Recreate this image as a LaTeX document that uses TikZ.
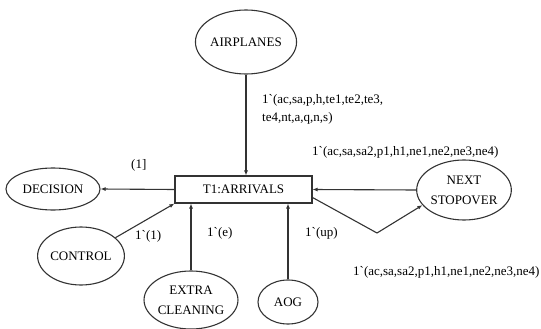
\documentclass[tikz,border=0pt]{standalone}
\usepackage{fontspec}
\setmainfont{Liberation Serif}
\usetikzlibrary{arrows.meta,calc,positioning,shapes.geometric}

\tikzset{
  place/.style={ellipse,draw=black!80,line width=1.1pt,inner sep=0pt,align=center,
    font=\fontsize{13}{20}\selectfont},
  trans/.style={rectangle,draw=black!80,line width=1.1pt,inner sep=0pt,
    font=\fontsize{13}{16}\selectfont},
  arc/.style={-{Latex[length=5pt,width=4pt]},line width=1.1pt,black!80},
  lbl/.style={inner sep=0pt,anchor=west,align=left,font=\fontsize{13}{18}\selectfont}
}

\begin{document}
\begin{tikzpicture}[x=1pt,y=-1pt]
\useasboundingbox (0,0) rectangle (541,329);
% places and transition
\node[trans,minimum width=137pt,minimum height=27pt] (arr) at (243.5,189.5) {T1:ARRIVALS};
\node[place,minimum width=90pt,minimum height=64pt] (air) at (246,42) {AIRPLANES};
\node[place,minimum width=94pt,minimum height=42pt] (dec) at (53,189) {DECISION};
\node[place,minimum width=82pt,minimum height=58pt] (ctl) at (81,256) {CONTROL};
\node[place,minimum width=80pt,minimum height=58pt] (xcl) at (191,300) {EXTRA\\CLEANING};
\node[place,minimum width=60pt,minimum height=44pt] (aog) at (288,302) {AOG};
\node[place,minimum width=82pt,minimum height=60pt] (nxt) at (464,190) {NEXT\\STOPOVER};
\coordinate (bend) at (377,233);
% arcs
\draw[arc] (air.south) -- (air.south |- arr.north);
\draw[arc] (nxt.west) -- (arr.east);
\draw[arc] (arr.west) -- (dec.east);
\draw[arc] (ctl.28) -- (arr.south west);
\draw[arc] (xcl.north) -- (xcl.north |- arr.south);
\draw[arc] (aog.north) -- (aog.north |- arr.south);
\draw[arc] ([yshift=-8pt]arr.east) -- (bend) -- (nxt.200);
% arc inscriptions
\node[lbl] (l1) at (262,109) {1\textasciigrave(ac,sa,p,h,te1,te2,te3,\\te4,nt,a,q,n,s)};
\node[lbl] (l2) at (312,152) {1\textasciigrave(ac,sa,sa2,p1,h1,ne1,ne2,ne3,ne4)};
\node[lbl] (l3) at (131,165) {(1]};
\node[lbl] (l4) at (135,236) {1\textasciigrave(1)};
\node[lbl] (l5) at (207,233) {1\textasciigrave(e)};
\node[lbl] (l6) at (305,233) {1\textasciigrave(up)};
\node[lbl] (l7) at (353,272) {1\textasciigrave(ac,sa,sa2,p1,h1,ne1,ne2,ne3,ne4)};
\end{tikzpicture}
\end{document}
